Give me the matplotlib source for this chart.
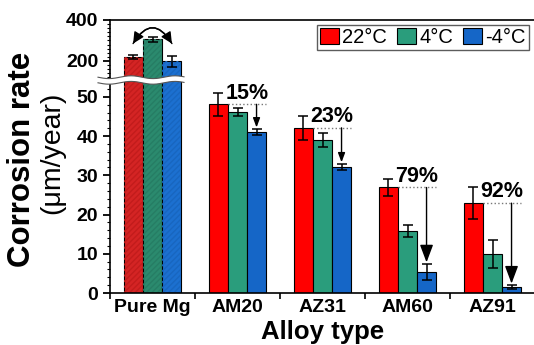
import numpy as np
import matplotlib
matplotlib.use("Agg")
import matplotlib.pyplot as plt
from matplotlib.ticker import MultipleLocator, FixedLocator
from matplotlib.patches import FancyArrowPatch, Patch

plt.rcParams['font.family'] = ['Liberation Sans', 'DejaVu Sans']

# data
alloys = ['Pure Mg', 'AM20', 'AZ31', 'AM60', 'AZ91']
temps = ['22°C', '4°C', '-4°C']
rate_22 = [221, 48.1, 42.1, 26.9, 22.9]
rate_4 = [306, 46.1, 39.1, 15.8, 9.9]
rate_m4 = [198, 41.0, 32.1, 5.4, 1.5]
err_22 = [10, 3.0, 3.0, 2.2, 4.0]
err_4 = [12, 1.0, 1.8, 1.5, 3.5]
err_m4 = [25, 0.8, 0.8, 2.0, 0.5]
drop_labels = ['15%', '23%', '79%', '92%']

colors = ['#ff0000', '#2a9d7c', '#1566c7']
colors_mg = ['#d42424', '#2b8a6e', '#1c70d0']
hatch_mg = ['#c21c1c', '#267d64', '#1866c0']
head_scale = [14, 14, 27, 27]

W, H = 534, 345
fig = plt.figure(figsize=(W / 100, H / 100), dpi=100)

left, right = 110 / W, 535 / W
y_top, y_brk, y_bot = 20, 80, 293
ax_t = fig.add_axes([left, 1 - y_brk / H, right - left, (y_brk - y_top) / H])
ax_b = fig.add_axes([left, 1 - y_bot / H, right - left, (y_bot - y_brk) / H])

x = np.arange(len(alloys))
w = 0.224
series = [(rate_22, err_22), (rate_4, err_4), (rate_m4, err_m4)]
for ax in (ax_t, ax_b):
    for k, (vals, errs) in enumerate(series):
        fc = [colors_mg[k]] + [colors[k]] * (len(alloys) - 1)
        ax.bar(x + (k - 1) * w, vals, w, color=fc, edgecolor='k', linewidth=0.8,
               yerr=errs, capsize=3.5, error_kw=dict(elinewidth=1.1, capthick=1.1, ecolor='k'))
        ax.bar(x[0] + (k - 1) * w, vals[0], w, facecolor='none', edgecolor=hatch_mg[k],
               linewidth=0, hatch='//////')

ax_t.set_ylim(107.3, 400)
ax_b.set_ylim(0, 54.3)
for ax in (ax_t, ax_b):
    ax.set_xlim(-0.5, 4.5)
    ax.spines['right'].set_visible(False)
    for s in ax.spines.values():
        s.set_linewidth(1.2)
    ax.tick_params(axis='y', which='major', direction='out', length=5, width=1.3,
                   labelsize=14)
    ax.tick_params(axis='y', which='minor', direction='out', length=2.5, width=0.8)
ax_t.spines['bottom'].set_visible(False)
ax_b.spines['top'].set_visible(False)

ax_t.yaxis.set_major_locator(FixedLocator([200, 400]))
ax_t.yaxis.set_minor_locator(MultipleLocator(20))
ax_t.set_xticks([])
ax_t.set_yticklabels(['200', '400'], fontweight='bold', fontsize=14)

ax_b.yaxis.set_minor_locator(MultipleLocator(2))
ax_b.set_yticks(np.arange(0, 51, 10))
ax_b.set_yticklabels([str(v) for v in range(0, 51, 10)], fontweight='bold', fontsize=14)
ax_b.set_xticks(x)
ax_b.set_xticklabels(alloys, fontweight='bold', fontsize=14)
ax_b.set_xticks(np.arange(-0.5, 4.6, 1), minor=True)
ax_b.tick_params(axis='x', which='major', length=0, pad=4)
ax_b.tick_params(axis='x', which='minor', direction='out', length=4, width=1.2)

fig.text((left + right) / 2, 1 - 339 / H, 'Alloy type', ha='center', va='baseline',
         fontsize=18.5, fontweight='bold')
fig.text(22 / W, 1 - 159 / H, 'Corrosion rate', rotation=90, ha='center', va='center',
         fontsize=22.5, fontweight='bold')
fig.text(52 / W, 1 - 153 / H, '(μm/year)', rotation=90, ha='center', va='center',
         fontsize=20.5)

# drop annotations
for i, lab in enumerate(drop_labels, start=1):
    y0 = rate_22[i]
    ax_b.plot([x[i] - w / 2, x[i] + 1.5 * w], [y0, y0], ls=':', color='#777777', lw=1)
    ax_b.text(x[i] + w / 2, y0 + 0.2, lab, ha='center', va='bottom', fontsize=15.5,
              fontweight='bold')
    ax_b.annotate('', xy=(x[i] + w, rate_m4[i] + err_m4[i] + 0.4), xytext=(x[i] + w, y0),
                  arrowprops=dict(arrowstyle='-|>,head_length=0.4,head_width=0.15',
                                  color='k', lw=1, mutation_scale=head_scale[i - 1],
                                  shrinkA=0, shrinkB=0))

# curved double arrow over pure Mg
for sgn in (1, -1):
    ax_t.add_patch(FancyArrowPatch((x[0] - sgn * w * 1.02, 285), (x[0] + sgn * w * 1.02, 285),
                                   connectionstyle='arc3,rad=%.2f' % (-0.8 * sgn),
                                   arrowstyle='-|>,head_length=0.45,head_width=0.22',
                                   mutation_scale=15, color='k', lw=1, shrinkA=0, shrinkB=0))

# axis break band
px = np.linspace(98, 184, 200)
wave = 1.4 * np.sin(2 * np.pi * (px - 98) / 44)
up = 1 - (y_brk - 2.8 + wave) / H
lo = 1 - (y_brk + 2.8 + wave) / H
fig.patches.append(plt.Polygon(np.column_stack([np.r_[px, px[::-1]] / W, np.r_[up, lo[::-1]]]),
                               closed=True, facecolor='white', edgecolor='none',
                               transform=fig.transFigure, zorder=5))
fig.lines.append(plt.Line2D(px / W, up, color='#555555', lw=0.8, transform=fig.transFigure, zorder=6))
fig.lines.append(plt.Line2D(px / W, lo, color='#555555', lw=0.8, transform=fig.transFigure, zorder=6))

handles = [Patch(facecolor=c, edgecolor='k', linewidth=0.8) for c in colors]
fig.legend(handles, temps, loc='upper right', bbox_to_anchor=(529 / W, 1 - 25 / H), ncol=3,
           fontsize=14.5, frameon=True, fancybox=False, edgecolor='#333333',
           handlelength=0.95, handleheight=0.8, handletextpad=0.15, columnspacing=0.5,
           borderpad=0.15, borderaxespad=0)

fig.savefig('out.png', dpi=100)
